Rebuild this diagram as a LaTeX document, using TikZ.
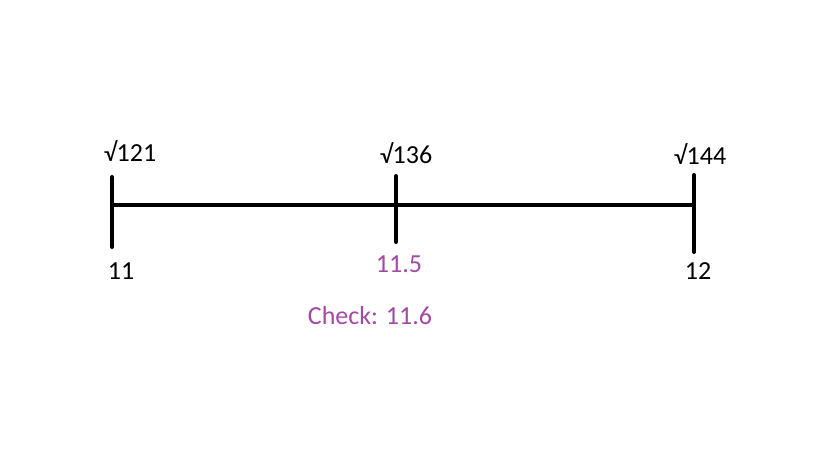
\documentclass[tikz,border=0pt]{standalone}
\usepackage{fontspec}
\setmainfont{Carlito}
\definecolor{checkPurple}{RGB}{163,73,164}
\newcommand{\nlSize}{\fontsize{26}{30}\selectfont}

\begin{document}
\begin{tikzpicture}[x=1pt,y=-1pt,
  nlLine/.style={line width=4pt, line cap=round},
  nlLabel/.style={anchor=base, inner sep=0pt, font=\nlSize}]
\useasboundingbox (0,0) rectangle (819,460);
% number line and ticks
\coordinate (lTop) at (112,177);
\coordinate (lBot) at (112,247);
\coordinate (lMid) at (112,205);
\coordinate (mTop) at (396,176);
\coordinate (mBot) at (396,242);
\coordinate (rTop) at (694,175);
\coordinate (rBot) at (694,252);
\coordinate (rMid) at (694,205);
\draw[nlLine] (lMid) -- (rMid);
\draw[nlLine] (lTop) -- (lBot);
\draw[nlLine] (mTop) -- (mBot);
\draw[nlLine] (rTop) -- (rBot);
% labels
\node[nlLabel] (sqA) at (130,161) {√121};
\node[nlLabel] (sqB) at (406,163) {√136};
\node[nlLabel] (sqC) at (700,164) {√144};
\node[nlLabel] (valA) at (121,279) {11};
\node[nlLabel, text=checkPurple] (valB) at (399,272) {11.5};
\node[nlLabel] (valC) at (698,279) {12};
\node[nlLabel, text=checkPurple] (check) at (370,324) {Check: 11.6};
\end{tikzpicture}
\end{document}
